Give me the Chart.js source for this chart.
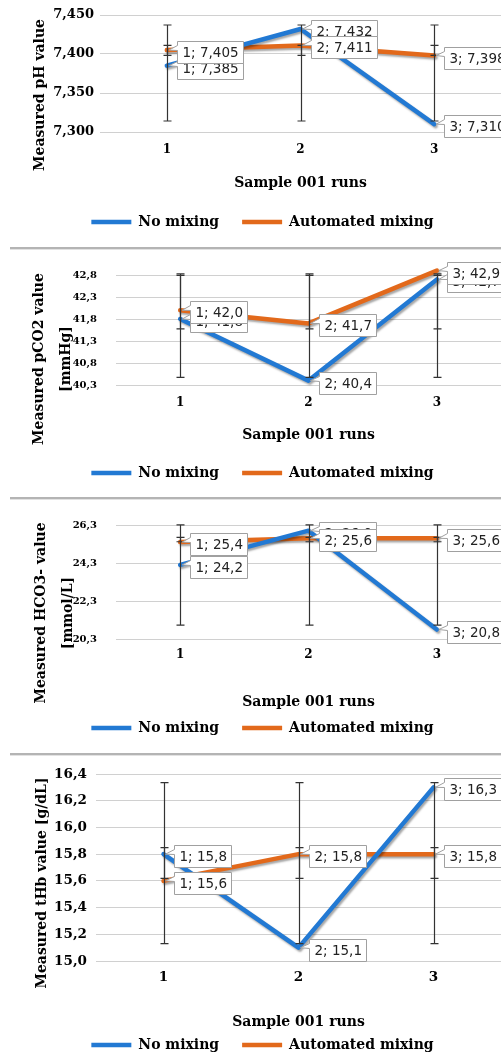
<!DOCTYPE html>
<html>
<head>
<meta charset="utf-8">
<script src="https://cdn.jsdelivr.net/npm/chart.js@4.4.1/dist/chart.umd.min.js"></script>
<style>
html, body { margin: 0; padding: 0; background: #fff; width: 501px; height: 1055px; overflow: hidden; }
.panel { position: absolute; left: 0; }
.sep { position: absolute; left: 10px; width: 491px; height: 2px; background: #b4b4b4; border-bottom: 1px solid #e2e2e2; }
</style>
</head>
<body>
<canvas id="chartPH" class="panel" style="top:0px" width="501" height="245"></canvas>
<div class="sep" style="top:247px"></div>
<canvas id="chartPCO2" class="panel" style="top:250px" width="501" height="245"></canvas>
<div class="sep" style="top:497px"></div>
<canvas id="chartHCO3" class="panel" style="top:500px" width="501" height="250"></canvas>
<div class="sep" style="top:753px"></div>
<canvas id="chartTHB" class="panel" style="top:756px" width="501" height="310"></canvas>
<script>
// categorias e series
var runs = ['1', '2', '3'];
var seriesNames = ['No mixing', 'Automated mixing'];

var phNoMixing = [7.385, 7.432, 7.310];
var phAutomated = [7.405, 7.411, 7.398];
var phTicks = [7.300, 7.350, 7.400, 7.450];

var pco2NoMixing = [41.8, 40.4, 42.7];
var pco2Automated = [42.0, 41.7, 42.9];
var pco2Ticks = [40.3, 40.8, 41.3, 41.8, 42.3, 42.8];

var hco3NoMixing = [24.2, 26.0, 20.8];
var hco3Automated = [25.4, 25.6, 25.6];
var hco3Ticks = [20.3, 22.3, 24.3, 26.3];

var thbNoMixing = [15.8, 15.1, 16.3];
var thbAutomated = [15.6, 15.8, 15.8];
var thbTicks = [15.0, 15.2, 15.4, 15.6, 15.8, 16.0, 16.2, 16.4];

var azul = '#2279D3';
var laranja = '#E2691B';

Chart.defaults.font.family = '"DejaVu Serif", serif';
Chart.defaults.font.weight = 'bold';
Chart.defaults.color = '#000';

function virgula(v, casas) {
    return Number(v).toFixed(casas).replace('.', ',');
}

function media(arr) {
    var s = 0;
    for (var i = 0; i < arr.length; i++) s += arr[i];
    return s / arr.length;
}

// desvio padrao amostral (barras de erro tipo "Standard deviation" do Excel)
function desvio(arr) {
    var m = media(arr), s = 0;
    for (var i = 0; i < arr.length; i++) s += (arr[i] - m) * (arr[i] - m);
    return Math.sqrt(s / (arr.length - 1));
}

var sombraLinha = {
    id: 'sombraLinha',
    beforeDatasetDraw: function(chart) {
        var ctx = chart.ctx;
        ctx.save();
        ctx.shadowColor = 'rgba(0,0,0,0.35)';
        ctx.shadowOffsetX = 1.5;
        ctx.shadowOffsetY = 2;
        ctx.shadowBlur = 2;
    },
    afterDatasetDraw: function(chart) {
        chart.ctx.restore();
    }
};

function caixaRotulo(ctx, px, py, texto) {
    ctx.font = '13.5px "DejaVu Sans", sans-serif';
    var w = Math.round(ctx.measureText(texto).width + 10);
    var h = 22;
    var left = Math.round(px + 10) + 0.5;
    var top = Math.round(py + 2 - h / 2) + 0.5;
    ctx.beginPath();
    ctx.moveTo(left, top);
    ctx.lineTo(left + w, top);
    ctx.lineTo(left + w, top + h);
    ctx.lineTo(left, top + h);
    ctx.lineTo(left, top + 9);
    ctx.lineTo(px + 2, py);
    ctx.lineTo(left, top + 4);
    ctx.closePath();
    ctx.fillStyle = '#fff';
    ctx.fill();
    ctx.strokeStyle = '#a0a0a0';
    ctx.lineWidth = 1;
    ctx.stroke();
    ctx.fillStyle = '#222';
    ctx.textAlign = 'left';
    ctx.textBaseline = 'middle';
    ctx.fillText(texto, left + 5, top + h / 2 + 0.5);
}

var barrasErroRotulos = {
    id: 'barrasErroRotulos',
    afterDatasetsDraw: function(chart, args, opts) {
        var ctx = chart.ctx;
        var x = chart.scales.x, y = chart.scales.y;
        ctx.save();
        ctx.strokeStyle = '#333';
        ctx.lineWidth = 1.2;
        chart.data.datasets.forEach(function(ds) {
            var m = media(ds.data), s = desvio(ds.data);
            ds.data.forEach(function(v, i) {
                var px = Math.round(x.getPixelForValue(i)) + 0.5;
                var yt = y.getPixelForValue(m + s);
                var yb = y.getPixelForValue(m - s);
                ctx.beginPath();
                ctx.moveTo(px, yt); ctx.lineTo(px, yb);
                ctx.moveTo(px - 4, yt); ctx.lineTo(px + 4, yt);
                ctx.moveTo(px - 4, yb); ctx.lineTo(px + 4, yb);
                ctx.stroke();
            });
        });
        chart.data.datasets.forEach(function(ds) {
            ds.data.forEach(function(v, i) {
                caixaRotulo(ctx, x.getPixelForValue(i), y.getPixelForValue(v),
                    runs[i] + '; ' + virgula(v, opts.casas));
            });
        });
        ctx.restore();
    }
};

var tituloY = {
    id: 'tituloY',
    afterDraw: function(chart, args, opts) {
        var ctx = chart.ctx;
        ctx.save();
        ctx.font = 'bold 14px "DejaVu Serif", serif';
        ctx.fillStyle = '#000';
        ctx.textAlign = 'center';
        ctx.textBaseline = 'middle';
        for (var i = 0; i < opts.linhas.length; i++) {
            ctx.save();
            ctx.translate(opts.xs[i], opts.cy);
            ctx.rotate(-Math.PI / 2);
            ctx.fillText(opts.linhas[i], 0, 0);
            ctx.restore();
        }
        ctx.restore();
    }
};

function criarGrafico(id, semMistura, automatico, ticks, casas, cfg) {
    return new Chart(document.getElementById(id), {
        type: 'line',
        data: {
            labels: runs,
            datasets: [{
                label: seriesNames[0],
                data: semMistura,
                borderColor: azul,
                backgroundColor: azul,
                borderWidth: 4.5,
                borderCapStyle: 'round',
                borderJoinStyle: 'round',
                pointRadius: 0,
                clip: false
            }, {
                label: seriesNames[1],
                data: automatico,
                borderColor: laranja,
                backgroundColor: laranja,
                borderWidth: 4.5,
                borderCapStyle: 'round',
                borderJoinStyle: 'round',
                pointRadius: 0,
                clip: false
            }]
        },
        options: {
            responsive: false,
            animation: false,
            devicePixelRatio: 1,
            layout: { padding: { top: cfg.top, left: 24, right: 0, bottom: cfg.baixo } },
            scales: {
                x: {
                    offset: true,
                    grid: { display: false, drawTicks: false },
                    border: { display: false },
                    ticks: { padding: cfg.xTickPad, font: { size: cfg.xTickSize } },
                    title: {
                        display: true,
                        text: 'Sample 001 runs',
                        font: { size: 14 },
                        padding: { top: 0, bottom: cfg.xTitlePad }
                    },
                    afterFit: function(s) { s.height = cfg.xAltura; }
                },
                y: {
                    min: ticks[0],
                    max: ticks[ticks.length - 1],
                    afterBuildTicks: function(s) {
                        s.ticks = ticks.map(function(v) { return { value: v }; });
                    },
                    grid: { color: '#D0D0D0', drawTicks: false },
                    border: { display: false },
                    ticks: {
                        padding: cfg.yTickPad,
                        font: { size: cfg.yTickSize },
                        callback: function(v) { return virgula(v, casas); }
                    },
                    afterFit: function(s) { s.width = cfg.yLargura; }
                }
            },
            plugins: {
                legend: {
                    position: 'bottom',
                    labels: {
                        usePointStyle: true,
                        pointStyle: 'line',
                        pointStyleWidth: 40,
                        padding: 23,
                        color: '#000',
                        font: { size: 14 }
                    }
                },
                tooltip: { enabled: false },
                barrasErroRotulos: { casas: casas },
                tituloY: { linhas: cfg.titulo, xs: cfg.tituloX, cy: cfg.tituloCy }
            }
        },
        plugins: [sombraLinha, barrasErroRotulos, tituloY]
    });
}

criarGrafico('chartPH', phNoMixing, phAutomated, phTicks, 3, {
    top: 15, baixo: 6, xAltura: 60, xTickPad: 11, xTickSize: 12, xTitlePad: 0.6,
    yLargura: 76, yTickPad: 6, yTickSize: 13,
    titulo: ['Measured pH value'], tituloX: [40], tituloCy: 95
});

criarGrafico('chartPCO2', pco2NoMixing, pco2Automated, pco2Ticks, 1, {
    top: 22, baixo: 5, xAltura: 58, xTickPad: 11, xTickSize: 12, xTitlePad: -0.4,
    yLargura: 92, yTickPad: 19, yTickSize: 10,
    titulo: ['Measured pCO2 value', '[mmHg]'], tituloX: [39, 66], tituloCy: 109
});

criarGrafico('chartHCO3', hco3NoMixing, hco3Automated, hco3Ticks, 1, {
    top: 22, baixo: 5, xAltura: 59, xTickPad: 9, xTickSize: 12, xTitlePad: -12.4,
    yLargura: 92, yTickPad: 19, yTickSize: 10,
    titulo: ['Measured HCO3- value', '[mmol/L]'], tituloX: [41, 68], tituloCy: 113
});

criarGrafico('chartTHB', thbNoMixing, thbAutomated, thbTicks, 1, {
    top: 18, baixo: 4, xAltura: 54, xTickPad: 8.6, xTickSize: 13.5, xTitlePad: -15.4,
    yLargura: 72, yTickPad: 9, yTickSize: 13.5,
    titulo: ['Measured tHb value [g/dL]'], tituloX: [42], tituloCy: 127
});
</script>
</body>
</html>
